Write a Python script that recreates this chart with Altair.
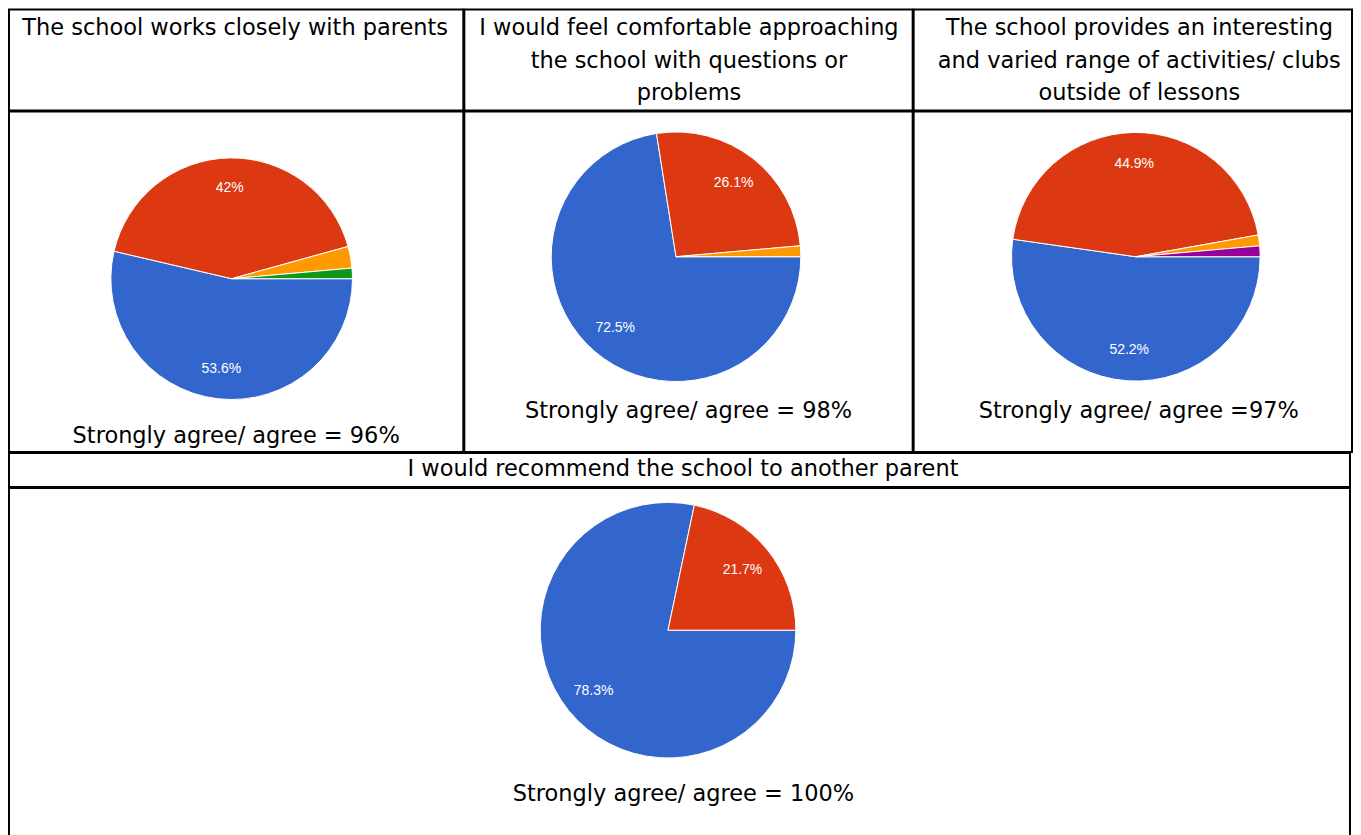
import math
import altair as alt
import pandas as pd

# ---------------- data ----------------
categories = ["Strongly agree", "Agree", "Disagree", "Strongly disagree", "Don't know"]
colors = ["#3366cc", "#dc3912", "#ff9900", "#109618", "#990099"]

titles = [
    "The school works closely with parents",
    "I would feel comfortable approaching\nthe school with questions or\nproblems",
    "The school provides an interesting\nand varied range of activities/ clubs\noutside of lessons",
    "I would recommend the school to another parent",
]
footers = [
    "Strongly agree/ agree = 96%",
    "Strongly agree/ agree = 98%",
    "Strongly agree/ agree =97%",
    "Strongly agree/ agree = 100%",
]
pie1 = [53.6, 42.0, 2.9, 1.4, 0.0]
pie2 = [72.5, 26.1, 1.4, 0.0, 0.0]
pie3 = [52.2, 44.9, 1.4, 0.0, 1.4]
pie4 = [78.3, 21.7, 0.0, 0.0, 0.0]

# ---------------- layout ----------------
FONT = "DejaVu Sans"
FS = 22.5
COLW = [455, 449, 439]
FULLW = sum(COLW)
HEAD_H = 101
PIE_H = 341
HEAD4_H = 34
PIE4_H = 352
GAP = -2
# cx, cy, r, footer_x, footer_y, header_x
pie_geom = [
    (223, 167.5, 121, 227.5, 325, 226.5),
    (212, 145.5, 125, 224.5, 300, 225),
    (222.5, 145.5, 124.5, 225.5, 300, 226),
]
pie4_geom = (660, 142.5, 128, 675.5, 307, 675)


def header(title, w, h, x0, y0):
    df = pd.DataFrame({"t": [title]})
    return alt.Chart(df).mark_text(
        lineBreak="\n", baseline="top", align="center", font=FONT,
        fontSize=FS, lineHeight=33, color="black"
    ).encode(
        text="t:N", x=alt.value(x0), y=alt.value(y0)
    ).properties(width=w, height=h)


def pie(values, footer, w, h, geom):
    cx, cy, r, fx, fy, _ = geom
    df = pd.DataFrame({
        "cat": categories,
        "idx": list(range(len(categories))),
        "pct": values,
        "label": [f"{v:g}%" if v >= 5 else "" for v in values],
    })
    df = df[df.pct > 0]
    base = alt.Chart(df).encode(
        theta=alt.Theta("pct:Q", stack="normalize",
                        scale=alt.Scale(range=[math.pi / 2, math.pi / 2 + 2 * math.pi])),
        order=alt.Order("idx:Q", sort="ascending"),
    )
    arc = base.mark_arc(radius=r, stroke="white", strokeWidth=1).encode(
        color=alt.Color("cat:N", scale=alt.Scale(domain=categories, range=colors), legend=None),
        x=alt.value(cx), y=alt.value(cy),
    )
    txt = base.mark_text(radius=r * 0.75, color="white", font="Liberation Sans",
                         fontSize=14).encode(
        text="label:N", x=alt.value(cx), y=alt.value(cy),
    )
    foot = alt.Chart(pd.DataFrame({"t": [footer]})).mark_text(
        font=FONT, fontSize=FS, color="black", baseline="middle", align="center"
    ).encode(text="t:N", x=alt.value(fx), y=alt.value(fy))
    return alt.layer(arc, txt, foot).properties(width=w, height=h)


cols = []
for i, vals in enumerate([pie1, pie2, pie3]):
    cols.append(alt.vconcat(
        header(titles[i], COLW[i], HEAD_H, pie_geom[i][5], 7),
        pie(vals, footers[i], COLW[i], PIE_H, pie_geom[i]),
        spacing=GAP,
    ))
top = alt.hconcat(*cols, spacing=GAP)

chart = alt.vconcat(
    top,
    header(titles[3], FULLW, HEAD4_H, pie4_geom[5], 5),
    pie(pie4, footers[3], FULLW, PIE4_H, pie4_geom),
    spacing=GAP,
).properties(
    padding=0, background="white"
).configure_view(
    stroke="black", strokeWidth=2
)

chart.save("out.html", embed_options={"renderer": "svg", "actions": False})
